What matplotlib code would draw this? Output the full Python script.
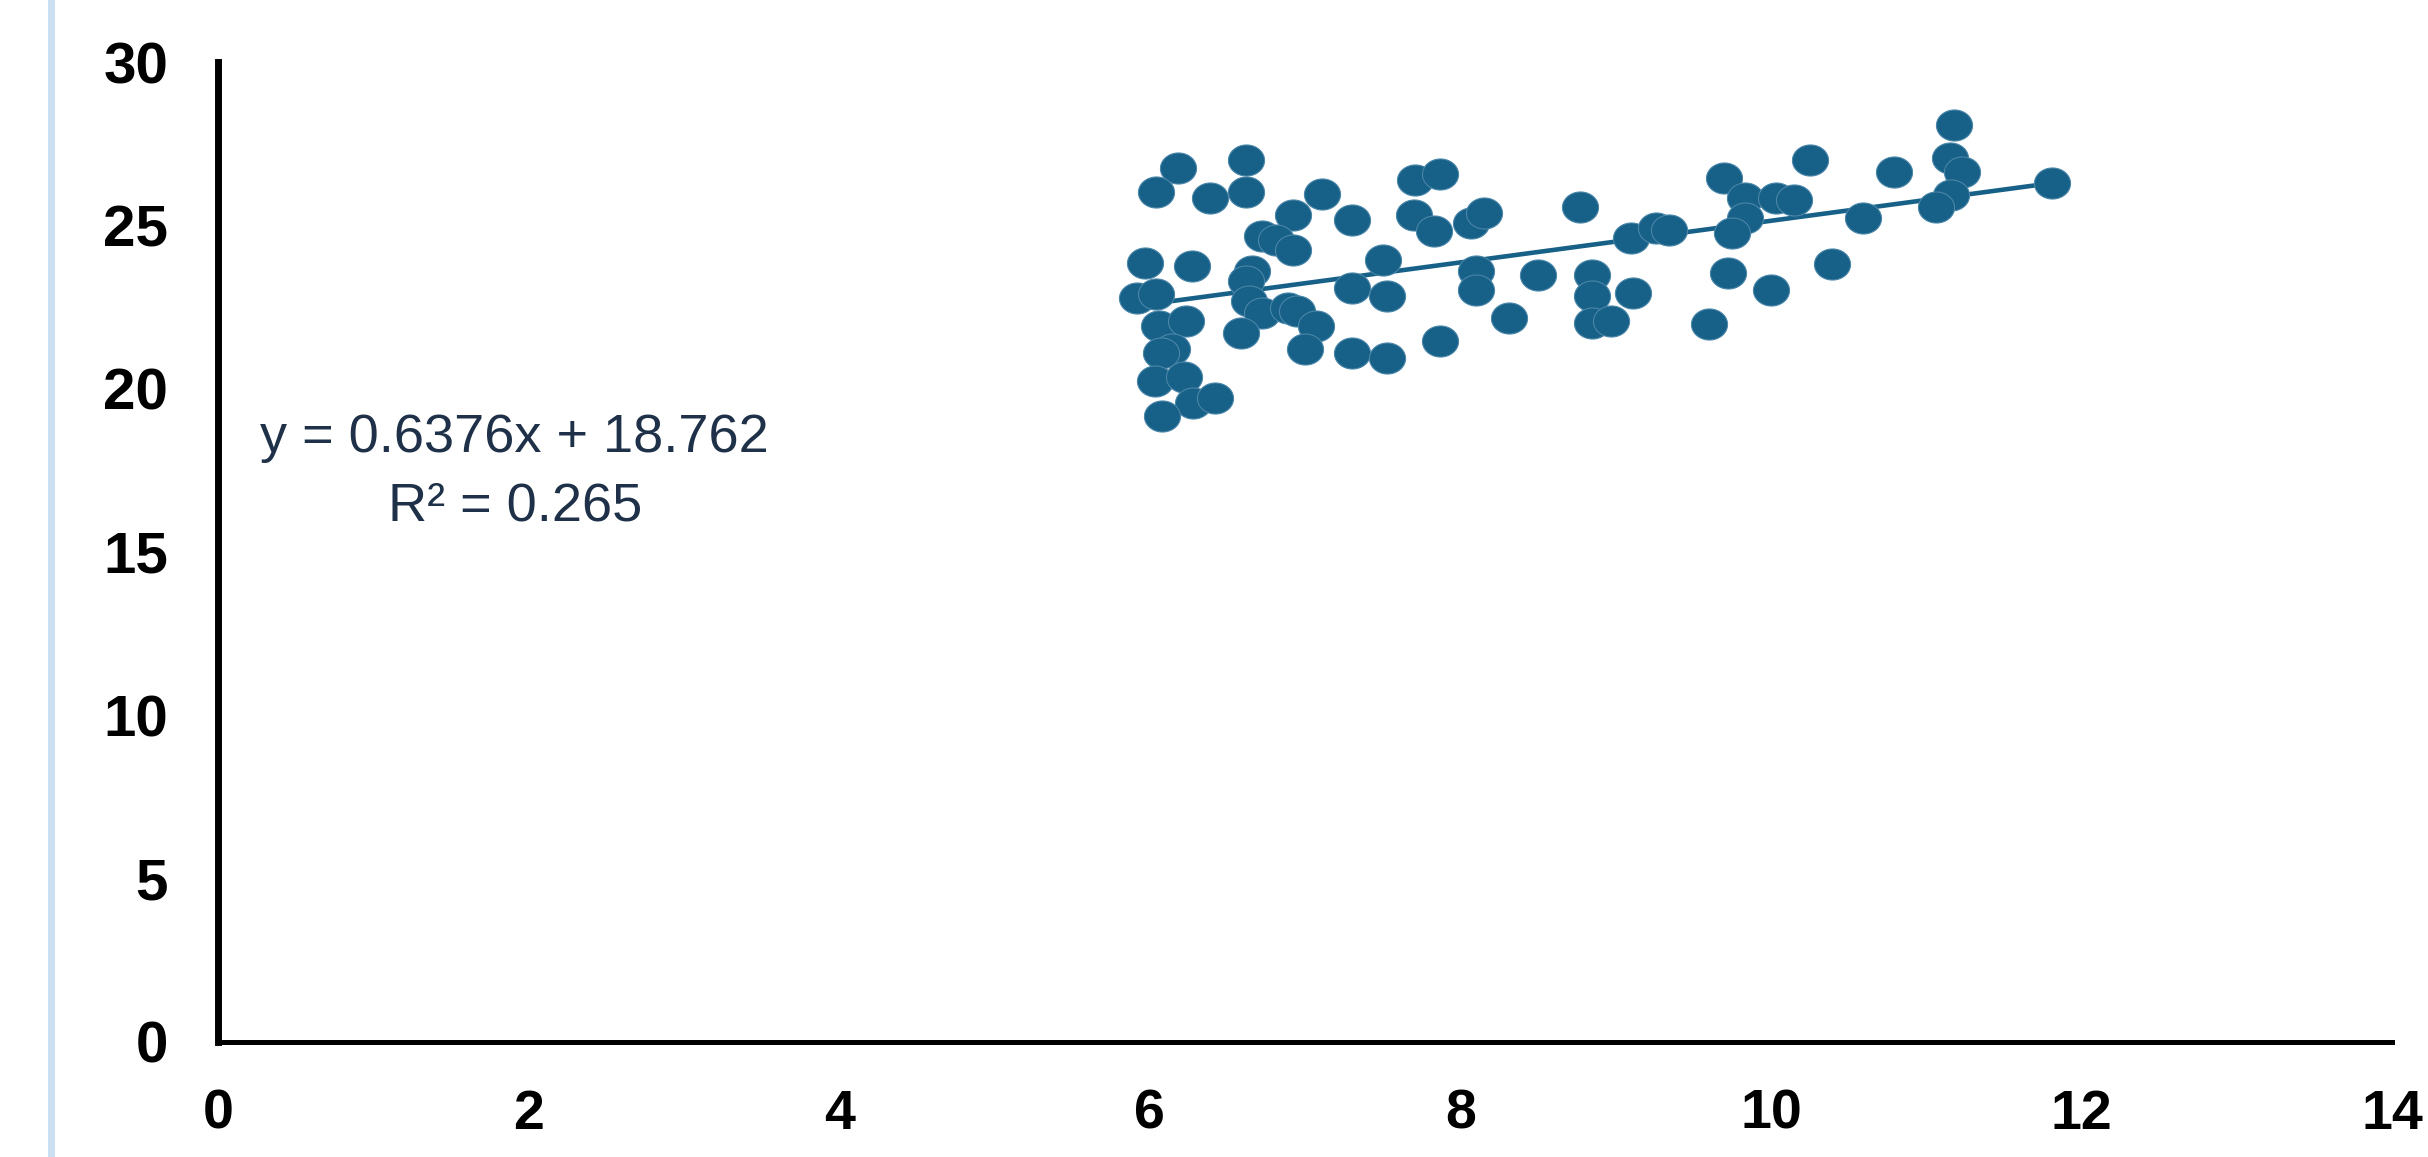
import matplotlib
matplotlib.use("Agg")
import matplotlib.pyplot as plt
import matplotlib.patches as patches
from matplotlib.path import Path
import numpy as np

# scatter points
X_VALUES = [6.18, 6.04, 6.39, 6.62, 6.62, 7.11, 6.92, 7.30, 6.72, 6.81,
            6.92, 5.97, 6.27, 6.66, 6.62, 5.92, 6.04, 6.64, 6.72, 6.89,
            6.95, 7.07, 6.59, 6.06, 6.23, 7.00, 6.14, 6.07, 6.03, 6.22,
            6.28, 6.42, 6.08, 7.30, 7.30, 7.71, 7.87, 7.70, 7.83, 8.07,
            8.15, 8.77, 7.50, 7.53, 8.10, 8.10, 8.50, 8.31, 7.87, 7.53,
            8.85, 8.85, 8.85, 8.97, 9.10, 9.26, 9.34, 9.70, 9.83, 9.83,
            9.75, 10.03, 10.15, 10.25, 9.11, 9.72, 10.00, 9.60, 10.39, 10.79,
            10.59, 11.18, 11.15, 11.23, 11.16, 11.06, 11.81]
Y_VALUES = [26.75, 26.03, 25.83, 27.00, 26.03, 25.95, 25.32, 25.17, 24.66, 24.56,
            24.25, 23.85, 23.74, 23.59, 23.29, 22.78, 22.88, 22.68, 22.32, 22.47,
            22.37, 21.91, 21.71, 21.91, 22.07, 21.20, 21.20, 21.10, 20.23, 20.34,
            19.57, 19.70, 19.17, 21.10, 23.08, 26.39, 26.56, 25.32, 24.81, 25.07,
            25.37, 25.57, 23.95, 22.83, 23.59, 23.03, 23.49, 22.15, 21.46, 20.95,
            23.49, 22.83, 22.02, 22.07, 24.61, 24.91, 24.86, 26.46, 25.83, 25.22,
            24.76, 25.83, 25.78, 27.00, 22.93, 23.54, 23.03, 21.98, 23.81, 26.64,
            25.22, 28.07, 27.05, 26.64, 25.93, 25.57, 26.29]

# trendline as printed on the chart
SLOPE = 0.6376
INTERCEPT = 18.762
R_SQUARED = 0.265

X_TICKS = [0, 2, 4, 6, 8, 10, 12, 14]
Y_TICKS = [0, 5, 10, 15, 20, 25, 30]

POINT_COLOR = "#176087"
TEXT_COLOR = "#1f3148"


def main():
    scatter_chart()


def scatter_chart():
    fig = plt.figure(figsize=(24.28, 11.57), dpi=100)
    ax = fig.add_axes([0.0898, 0.0998, 0.8955, 0.8466])

    # light blue strip at the left edge
    fig.add_artist(patches.Rectangle((48 / 2428, 0), 7 / 2428, 1,
                                     transform=fig.transFigure,
                                     facecolor="#cddff2", edgecolor="none"))

    # slightly flattened round marker
    t = np.linspace(0, 2 * np.pi, 60)
    ellipse = Path(np.column_stack([np.cos(t), 0.86 * np.sin(t)]))

    x_line = np.array([min(X_VALUES), max(X_VALUES)])
    ax.plot(x_line, SLOPE * x_line + INTERCEPT, color=POINT_COLOR,
            linewidth=3.3, solid_capstyle="butt", zorder=2)

    ax.plot(X_VALUES, Y_VALUES, linestyle="none", marker=ellipse,
            markersize=26, markerfacecolor=POINT_COLOR,
            markeredgecolor="#4a86a8", markeredgewidth=0.8, zorder=3)

    ax.text(1.91, 18.05, "y = 0.6376x + 18.762", ha="center", va="baseline",
            fontsize=39, family="Liberation Sans", color=TEXT_COLOR)
    ax.text(1.91, 15.97, "R\u00b2 = " + str(R_SQUARED), ha="center", va="baseline",
            fontsize=39, family="Liberation Sans", color=TEXT_COLOR)

    ax.set_xlim(0, 14)
    ax.set_ylim(0, 30)
    ax.set_xticks(X_TICKS)
    ax.set_yticks(Y_TICKS)
    ax.set_xticklabels([str(v) for v in X_TICKS], fontsize=40,
                       fontweight="bold", family="Liberation Sans")
    ax.set_yticklabels([str(v) for v in Y_TICKS], fontsize=42,
                       fontweight="bold", family="Liberation Sans")
    ax.tick_params(axis="both", length=0)
    ax.tick_params(axis="x", pad=34)
    ax.tick_params(axis="y", pad=36)

    ax.spines["top"].set_visible(False)
    ax.spines["right"].set_visible(False)
    ax.spines["left"].set_linewidth(5)
    ax.spines["bottom"].set_linewidth(3.6)
    ax.spines["left"].set_color("black")
    ax.spines["bottom"].set_color("black")

    fig.savefig("out.png", dpi=100)


if __name__ == "__main__":
    main()
